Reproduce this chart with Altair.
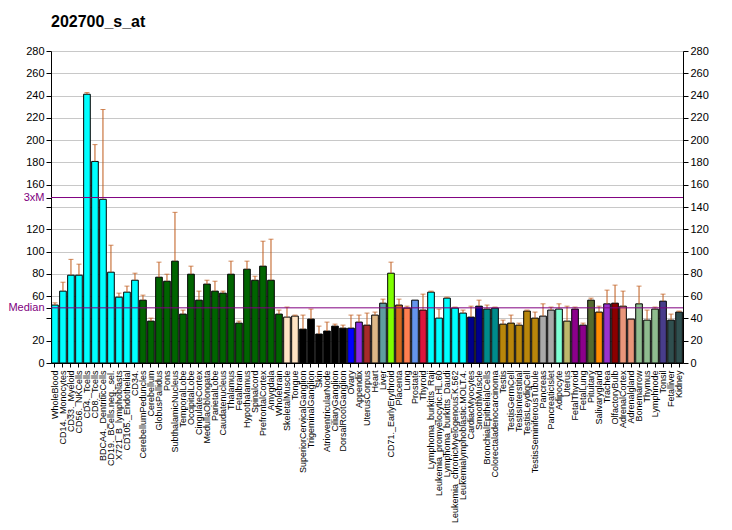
import altair as alt
import pandas as pd

names = ["WholeBlood", "CD14._Monocytes", "CD33._Myeloid", "CD56._NKCells", "CD4._Tcells",
         "CD8._Tcells", "BDCA4._DentriticCells", "CD19._BCells.neg._sel.", "X721_B_lymphoblasts",
         "CD105._Endothelial", "CD34.", "CerebellumPeduncles", "Cerebellum", "GlobusPallidus",
         "Pons", "SubthalamicNucleus", "TemporalLobe", "OccipitalLobe", "CingulateCortex",
         "MedullaOblongata", "ParietalLobe", "Caudatenucleus", "Thalamus", "Fetalbrain",
         "Hypothalamus", "Spinalcord", "PrefrontalCortex", "Amygdala", "Wholebrain",
         "SkeletalMuscle", "Tongue", "SuperiorCervicalGanglion", "TrigeminalGanglion", "Skin",
         "AtrioventricularNode", "CiliaryGanglion", "DorsalRootGanglion", "Ovary", "Appendix",
         "UterusCorpus", "Heart", "Liver", "CD71._EarlyErythroid", "Placenta", "Lung",
         "Prostate", "Thyroid", "Lymphoma_burkitts_Raji", "Leukemia_promyelocytic.HL.60",
         "Lymphoma_burkitts_Daudi", "Leukemia_chronicMyelogenous.K.562",
         "Leukemialymphoblastic.MOLT.4.", "CardiacMyocytes", "SmoothMuscle",
         "BronchialEpithelialCells", "Colorectaladenocarcinoma", "Testis", "TestisGermCell",
         "TestisInterstitial", "TestisLeydigCell", "TestisSeminiferousTubule", "Pancreas",
         "PancreaticIslet", "Adipocyte", "Uterus", "FetalThyroid", "FetalLung", "Pituitary",
         "Salivarygland", "Trachea", "OlfactoryBulb", "AdrenalCortex", "Adrenalgland",
         "Bonemarrow", "Thymus", "Lymphnode", "Tonsil", "Fetalliver", "Kidney"]

values = [52, 64.5, 78.8, 78.8, 241.2, 180.9, 146.9, 81.5, 59.1, 63.6,
          74.3, 56.4, 37.6, 77, 73.4, 91.4, 43.9, 79.7, 56.4, 70.8,
          64.5, 62.7, 79.7, 35.8, 84.2, 74.3, 86.9, 74.3, 43.9, 41.2,
          42.1, 30.4, 39.4, 26, 28.7, 33.1, 31.3, 31.3, 36.7, 34,
          43, 53.7, 80.6, 52, 49.3, 56.4, 47.5, 63.6, 40.3, 58.2,
          49.3, 44.8, 41.2, 51, 48.4, 49.3, 34.9, 35.8, 34, 46.6,
          40.3, 42.1, 47.5, 48.4, 37.6, 48.4, 34, 56.4, 45.7, 53.1,
          53.7, 51, 39.4, 53.1, 38.5, 48.4, 55.5, 38.5, 45.7]

err_top = [54, 72.5, 93, 88.7, 242.7, 196, 227.5, 105.7, 62.7, 69,
           80.6, 60.9, 40.3, 90.5, 79.7, 135.2, 47.5, 86.9, 64.5, 74.3,
           73.4, 64.5, 91.4, 37.6, 91.4, 77.9, 109.3, 111.1, 47.5, 50.2,
           43, 43, 48.4, 33.1, 36.7, 34.9, 34, 43, 43, 44.8,
           45.7, 57.3, 90.5, 57.3, 51, 56.4, 61.8, 64.5, 48.4, 59.1,
           50.2, 47.5, 51, 56.4, 52, 50.2, 38.5, 43, 35.8, 47.5,
           45.7, 53.1, 50.2, 53.1, 51, 50.2, 35.8, 58.2, 51, 65.4,
           69.9, 64.5, 39.4, 69, 47.5, 50.2, 61.8, 43.9, 46.6]

colors = (["#00FFFF"] * 11 + ["#006400"] * 18 + ["#FFE4C4"] * 2 + ["#000000"] * 6 +
          ["#0000FF", "#8A2BE2", "#A52A2A", "#DEB887", "#5F9EA0", "#7FFF00", "#D2691E",
           "#FF7F50", "#6495ED", "#DC143C"] + ["#00FFFF"] * 5 + ["#00008B"] * 2 +
          ["#008B8B"] * 2 + ["#B8860B"] * 5 + ["#A9A9A9"] * 2 +
          ["#7FFFD4", "#BDB76B", "#8B008B", "#8B008B", "#556B2F", "#FF8C00", "#9932CC",
           "#8B0000", "#E9967A", "#E9967A"] + ["#8FBC8F"] * 3 + ["#483D8B"] +
          ["#2F4F4F"] * 2)

median_value = 49.5
three_x_median = 148.5

df = pd.DataFrame({"name": names, "value": values, "err": err_top, "color": colors})
ref_df = pd.DataFrame({"y": [median_value, three_x_median]})

FONT = "Liberation Sans"
ERR = "#BF5A1A"
PURPLE = "#800080"

xenc = alt.X("name:N", sort=names, title=None,
             scale=alt.Scale(paddingInner=0.17, paddingOuter=0.08),
             axis=alt.Axis(labelAngle=-90, labelAlign="right", labelBaseline="middle",
                           labelFontSize=9, labelFont=FONT, labelColor="black",
                           tickColor="black", domainColor="black", tickSize=4,
                           labelPadding=3, labelOverlap=False, labelLimit=300))

yscale = alt.Scale(domain=[0, 280], nice=False, zero=True)

left_vals = [0, 20, 40, median_value, 60, 80, 100, 120, 140, three_x_median,
             160, 180, 200, 220, 240, 260, 280]
left_axis = alt.Axis(
    orient="left", values=left_vals, grid=False, title=None,
    labelExpr=("datum.value == 49.5 ? 'Median' : datum.value == 148.5 ? '3xM' : "
               "(datum.value == 40 || datum.value == 140) ? '' : datum.label"),
    labelColor={"condition": {"test": "datum.value == 49.5 || datum.value == 148.5",
                              "value": PURPLE}, "value": "black"},
    labelFont=FONT, labelFontSize=11, tickColor="black", domainColor="black",
    tickSize=5, labelPadding=2)

right_axis = alt.Axis(
    orient="right", values=list(range(0, 281, 20)), grid=True, gridColor="#C8C8C8",
    gridWidth=1, title=None, labelFont=FONT, labelFontSize=11, labelColor="black",
    tickColor="black", domainColor="black", tickSize=5, labelPadding=2)

base = alt.Chart(df)

bars = base.mark_bar(stroke="black", strokeWidth=1).encode(
    x=xenc,
    y=alt.Y("value:Q", scale=yscale, axis=right_axis),
    color=alt.Color("color:N", scale=None),
)

err_rules = base.transform_filter("datum.err > datum.value").mark_rule(
    color=ERR, strokeWidth=1).encode(
    x=xenc,
    y=alt.Y("value:Q", scale=yscale, axis=left_axis),
    y2="err:Q",
)

caps = base.transform_filter("datum.err > datum.value").mark_tick(
    color=ERR, thickness=1, size=5).encode(
    x=xenc,
    y=alt.Y("err:Q", scale=yscale, axis=None),
)

ref_lines = alt.Chart(ref_df).mark_rule(color=PURPLE, strokeWidth=1).encode(
    y=alt.Y("y:Q", scale=yscale, axis=None),
)

chart = alt.layer(bars, err_rules, caps, ref_lines).resolve_scale(
    y="shared").resolve_axis(y="independent").properties(
    width=632, height=312,
    title=alt.TitleParams("202700_s_at", anchor="start", frame="group", font=FONT,
                          fontSize=16, fontWeight="bold", color="black", offset=15),
    autosize=alt.AutoSizeParams(type="none"),
    padding={"left": 51, "top": 51, "right": 49, "bottom": 167},
).configure_view(stroke=None).configure(background="white")

chart.save("out.html", embed_options={"renderer": "svg", "actions": False})
